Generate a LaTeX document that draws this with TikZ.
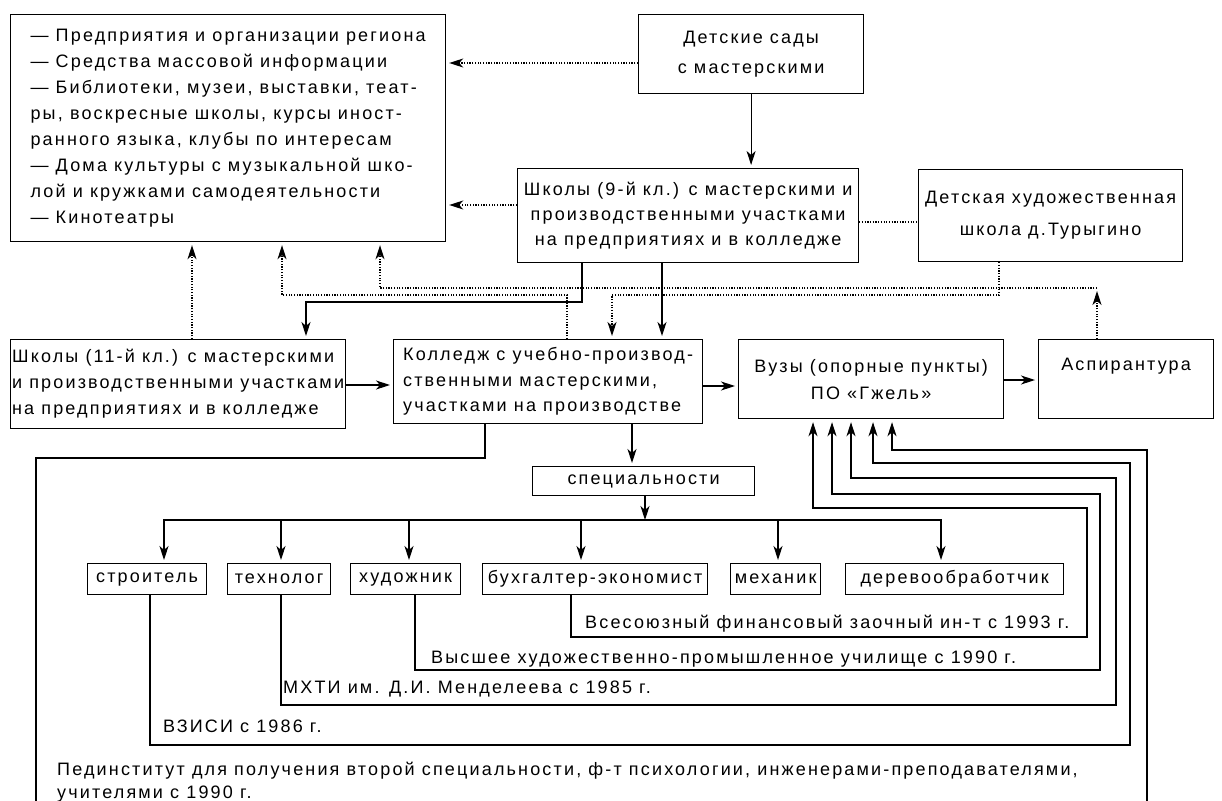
\documentclass[tikz,border=0pt]{standalone}
\usepackage{fontspec}
\setmainfont[LetterSpace=12]{Liberation Sans}
\usetikzlibrary{arrows.meta}
\newcommand{\fsz}[1]{\fontsize{18}{#1}\selectfont}
\begin{document}
\begin{tikzpicture}[x=1pt,y=-1pt,
  rbox/.style={draw, line width=1.2pt, inner sep=0pt, anchor=north west},
  ln/.style={line width=1.1pt},
  dotline/.style={line width=1.2pt, dash pattern=on 1.2pt off 1.5pt},
  arr/.style={-{Stealth[length=14pt,width=9pt,inset=4pt]}, shorten >=3pt},
  lbl/.style={inner sep=0pt, anchor=base west, font=\fsz{22}},
  sp/.style={rbox, minimum height=31pt, font=\fsz{22}}]
\useasboundingbox (0,0) rectangle (1222,800);

% boxes
\node[rbox, minimum width=435pt, minimum height=227pt, align=left, font=\fsz{26}] (A) at (10,14)
 {— Предприятия и организации региона\\— Средства массовой информации\\— Библиотеки, музеи, выставки, теат-\\ры, воскресные школы, курсы иност-\\ранного языка, клубы по интересам\\— Дома культуры с музыкальной шко-\\лой и кружками самодеятельности\\— Кинотеатры};
\node[rbox, minimum width=225pt, minimum height=79pt, align=center, font=\fsz{30}] (B) at (638,14)
 {Детские сады\\с мастерскими};
\node[rbox, minimum width=341pt, minimum height=94pt, align=center, font=\fsz{25}] (C) at (517,168)
 {Школы (9-й кл.) с мастерскими и\\производственными участками\\на предприятиях и в колледже};
\node[rbox, minimum width=264pt, minimum height=92pt, align=center, font=\fsz{32}] (D) at (918,169)
 {Детская художественная\\школа д.Турыгино};
\node[rbox, minimum width=335pt, minimum height=89pt, align=left, font=\fsz{26}] (E) at (10,339)
 {Школы (11-й кл.) с мастерскими\\и производственными участками\\на предприятиях и в колледже};
\node[rbox, minimum width=309pt, minimum height=84pt, align=left, font=\fsz{25.5}] (F) at (393,339)
 {Колледж с учебно-производ-\\ственными мастерскими,\\участками на производстве};
\node[rbox, minimum width=265pt, minimum height=79pt, align=center, font=\fsz{27}] (G) at (738,339)
 {Вузы (опорные пункты)\\ПО «Гжель»};
\node[rbox, minimum width=175pt, minimum height=79pt, align=center, font=\fsz{29}] (H) at (1038,339)
 {Аспирантура\\\mbox{}};
\node[rbox, minimum width=222pt, minimum height=29pt, font=\fsz{22}] (S) at (532,466) {специальности};
\node[sp, minimum width=119pt] (s1) at (87,563) {строитель};
\node[sp, minimum width=103pt] (s2) at (227,563) {технолог};
\node[sp, minimum width=110pt] (s3) at (350,563) {художник};
\node[sp, minimum width=225pt] (s4) at (482,563) {бухгалтер-экономист};
\node[sp, minimum width=90pt] (s5) at (730,563) {механик};
\node[sp, minimum width=218pt] (s6) at (845,563) {деревообработчик};

% upper connectors
\draw[dotline, arr] (B.west |- 0,63) -- (A.east |- 0,63);
\draw[dotline, arr] (C.west |- 0,205) -- (A.east |- 0,205);
\draw[ln, arr] (B.south) -- (B.south |- C.north);
\draw[dotline] (C.east |- 0,222) -- (D.west |- 0,222);
\draw[ln, arr] (C.south -| 582,0) |- (306,302) -- (E.north -| 306,0);
\draw[ln, arr] (C.south -| 662,0) -- (F.north -| 662,0);
\draw[dotline, arr] (E.north -| 192,0) -- (A.south -| 192,0);
\draw[dotline, arr] (F.north -| 567,0) |- (282,295) -- (A.south -| 282,0);
\draw[dotline, arr] (D.south -| 999,0) |- (612,295) -- (F.north -| 612,0);
\coordinate (j) at (1097,288);
\draw[dotline, arr] (H.north -| j) -- (j);
\draw[dotline, arr] (j) -| (A.south -| 380,0);
\draw[ln, arr] (E.east |- 0,385) -- (F.west |- 0,385);
\draw[ln, arr] (F.east |- 0,386) -- (G.west |- 0,386);
\draw[ln, arr] (G.east |- 0,380) -- (H.west |- 0,380);

% specialities
\draw[ln, arr] (F.south -| 632,0) -- (S.north -| 632,0);
\coordinate (bus) at (645,520);
\draw[ln, arr, shorten >=0pt] (S.south -| bus) -- (bus);
\foreach \n/\x in {s1/164,s2/281,s3/409,s4/581,s5/778,s6/941}
  \draw[ln, arr] (bus) -| (\n.north -| \x,0);

% lower loops to Vuzy
\draw[ln, arr] (s4.south -| 571,0) |- (1087,637) |- (813,508) -- (G.south -| 813,0);
\draw[ln, arr] (s3.south -| 415,0) |- (1100,670) |- (832,494) -- (G.south -| 832,0);
\draw[ln, arr] (s2.south -| 281,0) |- (1116,705) |- (851,478) -- (G.south -| 851,0);
\draw[ln, arr] (s1.south -| 150,0) |- (1130,745) |- (873,463) -- (G.south -| 873,0);
\draw[ln, arr] (F.south -| 485,0) |- (36,458) |- (1147,815) |- (892,450) -- (G.south -| 892,0);

% labels
\node[lbl] (l1) at (585,628) {Всесоюзный финансовый заочный ин-т с 1993 г.};
\node[lbl] (l2) at (431,663) {Высшее художественно-промышленное училище с 1990 г.};
\node[lbl] (l3) at (283,693) {МХТИ им. Д.И. Менделеева с 1985 г.};
\node[lbl] (l4) at (163,732) {ВЗИСИ с 1986 г.};
\node[inner sep=0pt, anchor=north west, align=left, font=\fsz{23}] (l5) at (57,762)
 {Пединститут для получения второй специальности, ф-т психологии, инженерами-преподавателями,\\учителями с 1990 г.};
\end{tikzpicture}
\end{document}
